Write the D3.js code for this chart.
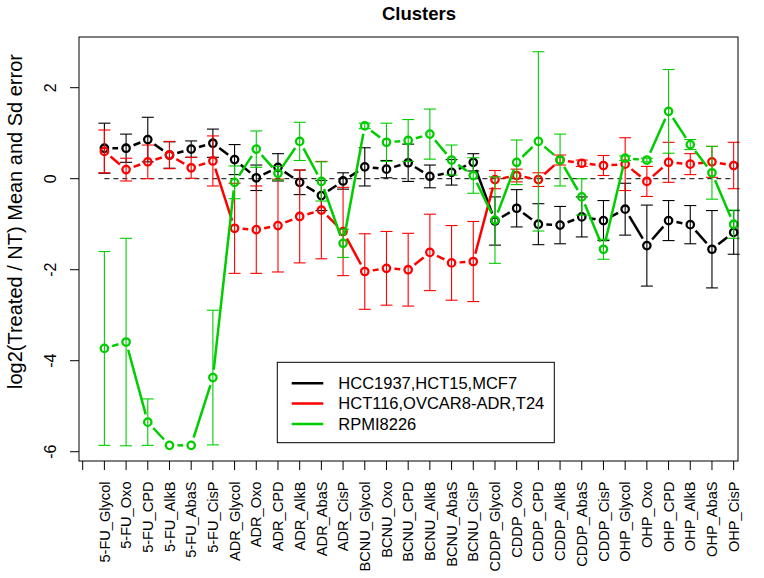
<!DOCTYPE html>
<html><head><meta charset="utf-8">
<script src="https://cdn.jsdelivr.net/npm/d3@7"></script>
<style>body{margin:0;background:#fff}svg{display:block;font-family:"Liberation Sans",Arial,Helvetica,sans-serif}</style>
</head><body>
<svg id="chart" width="764" height="578"></svg>
<script>
const categories = ["5-FU_Glycol","5-FU_Oxo","5-FU_CPD","5-FU_AlkB","5-FU_AbaS","5-FU_CisP",
 "ADR_Glycol","ADR_Oxo","ADR_CPD","ADR_AlkB","ADR_AbaS","ADR_CisP",
 "BCNU_Glycol","BCNU_Oxo","BCNU_CPD","BCNU_AlkB","BCNU_AbaS","BCNU_CisP",
 "CDDP_Glycol","CDDP_Oxo","CDDP_CPD","CDDP_AlkB","CDDP_AbaS","CDDP_CisP",
 "OHP_Glycol","OHP_Oxo","OHP_CPD","OHP_AlkB","OHP_AbaS","OHP_CisP"];
const xTicks = d3.range(0, 31);
const yTicks = [-6, -4, -2, 0, 2];
const seriesNames = ["HCC1937,HCT15,MCF7", "HCT116,OVCAR8-ADR,T24", "RPMI8226"];
const seriesColors = ["#000000", "#FF0000", "#00CD00"];

const hccMean = [0.67,0.67,0.86,0.52,0.65,0.78, 0.42,0.02,0.25,-0.08,-0.37,-0.05, 0.26,0.21,0.35,0.05,0.14,0.36, -0.93,-0.65,-1.00,-1.02,-0.84,-0.92, -0.67,-1.47,-0.92,-1.01,-1.55,-1.18];
const hccSd   = [0.55,0.31,0.49,0.29,0.18,0.31, 0.33,0.28,0.30,0.27,0.33,0.18, 0.42,0.19,0.41,0.25,0.28,0.19, 0.53,0.41,0.45,0.41,0.44,0.44, 0.57,0.89,0.44,0.42,0.85,0.48];
const hctMean = [0.60,0.20,0.37,0.52,0.24,0.39, -1.09,-1.12,-1.03,-0.83,-0.69,-1.16, -2.04,-1.97,-2.00,-1.62,-1.85,-1.82, -0.02,0.07,-0.02,0.41,0.34,0.29, 0.32,-0.06,0.36,0.32,0.37,0.29];
const hctSd   = [0.47,0.25,0.37,0.30,0.23,0.55, 0.99,0.96,1.02,1.02,1.07,0.97, 0.83,0.81,0.80,0.84,0.82,0.88, 0.20,0.14,0.15,0.11,0.07,0.22, 0.58,0.33,0.44,0.23,0.34,0.51];
const rpmiMean = [-3.73,-3.59,-5.35,-5.86,-5.86,-4.37, -0.08,0.65,0.12,0.82,-0.06,-1.42, 1.16,0.80,0.84,0.98,0.41,0.07, -0.91,0.36,0.82,0.41,-0.40,-1.55, 0.45,0.41,1.48,0.75,0.13,-1.00];
const rpmiSd   = [2.13,2.28,0.51,0,0,1.48, 0.36,0.40,0.15,0.42,0.43,0.31, 0.06,0.42,0.46,0.55,0.33,0.39, 0.95,0.49,1.97,0.57,0.40,0.22, 0.05,0.04,0.92,0.11,0.58,0.31];

const series = [
  {name: seriesNames[0], color: seriesColors[0], mean: hccMean, sd: hccSd},
  {name: seriesNames[1], color: seriesColors[1], mean: hctMean, sd: hctSd},
  {name: seriesNames[2], color: seriesColors[2], mean: rpmiMean, sd: rpmiSd}
];

const svg = d3.select("#chart");
const box = {l: 79, r: 738, t: 37, b: 461};
const x = d3.scaleLinear().domain([-0.17, 30.2]).range([box.l, box.r]);
const y = d3.scaleLinear().domain([-6.204, 3.114]).range([box.b, box.t]);

// title
svg.append("text").attr("x", 419).attr("y", 19.5).attr("text-anchor", "middle")
  .attr("font-weight", "bold").attr("font-size", 18.5).text("Clusters");

// y axis ticks & labels
const yAx = svg.append("g");
yTicks.forEach(v => {
  yAx.append("line").attr("x1", box.l - 9).attr("x2", box.l).attr("y1", y(v)).attr("y2", y(v))
    .attr("stroke", "#000").attr("stroke-width", 1);
  yAx.append("text").attr("transform", `translate(50,${y(v)}) rotate(-90)`)
    .attr("text-anchor", "middle").attr("dy", "0.35em").attr("font-size", 16).text(v);
});
svg.append("text").attr("transform", `translate(15,221.5) rotate(-90)`)
  .attr("text-anchor", "middle").attr("dy", "0.35em").attr("font-size", 20)
  .text("log2(Treated / NT) Mean and Sd error");

// x axis ticks & labels
const xAx = svg.append("g");
xTicks.forEach(v => {
  xAx.append("line").attr("x1", x(v)).attr("x2", x(v)).attr("y1", box.b).attr("y2", box.b + 9)
    .attr("stroke", "#000").attr("stroke-width", 1);
});
categories.forEach((c, i) => {
  xAx.append("text").attr("transform", `translate(${x(i + 1)},481.5) rotate(-90)`)
    .attr("text-anchor", "end").attr("dy", "0.35em").attr("font-size", 14.6).text(c);
});

// zero reference line
svg.append("line").attr("x1", x(1)).attr("x2", x(30)).attr("y1", y(0)).attr("y2", y(0))
  .attr("stroke", "#000").attr("stroke-width", 1).attr("stroke-dasharray", "5,4");

// series
const gap = 8;
series.forEach(s => {
  const g = svg.append("g");
  const pts = s.mean.map((m, i) => ({px: x(i + 1), py: y(m), m, sd: s.sd[i]}));
  // error bars
  pts.forEach(p => {
    if (p.sd <= 0) return;
    const yt = y(p.m + p.sd), yb = y(p.m - p.sd);
    g.append("line").attr("x1", p.px).attr("x2", p.px).attr("y1", yt).attr("y2", yb)
      .attr("stroke", s.color).attr("stroke-width", 1.1);
    [yt, yb].forEach(yy => g.append("line").attr("x1", p.px - 6).attr("x2", p.px + 6)
      .attr("y1", yy).attr("y2", yy).attr("stroke", s.color).attr("stroke-width", 1.1));
  });
  // lines with gaps (type "b")
  for (let i = 0; i < pts.length - 1; i++) {
    const a = pts[i], b = pts[i + 1];
    const dx = b.px - a.px, dy = b.py - a.py, L = Math.hypot(dx, dy);
    if (L <= 2 * gap) continue;
    const ux = dx / L, uy = dy / L;
    g.append("line").attr("x1", a.px + ux * gap).attr("y1", a.py + uy * gap)
      .attr("x2", b.px - ux * gap).attr("y2", b.py - uy * gap)
      .attr("stroke", s.color).attr("stroke-width", 2.5);
  }
  // points
  g.selectAll("circle").data(pts).join("circle")
    .attr("cx", d => d.px).attr("cy", d => d.py).attr("r", 3.7)
    .attr("fill", "none").attr("stroke", s.color).attr("stroke-width", 2.3);
});

// plot box
svg.append("rect").attr("x", box.l).attr("y", box.t).attr("width", box.r - box.l).attr("height", box.b - box.t)
  .attr("fill", "none").attr("stroke", "#000").attr("stroke-width", 1);

// legend
const lg = svg.append("g");
lg.append("rect").attr("x", 277.3).attr("y", 362.3).attr("width", 277).attr("height", 80.4)
  .attr("fill", "#fff").attr("stroke", "#000").attr("stroke-width", 1);
const rowY = [383.3, 403.6, 424];
series.forEach((s, i) => {
  lg.append("line").attr("x1", 291.7).attr("x2", 323.3).attr("y1", rowY[i]).attr("y2", rowY[i])
    .attr("stroke", s.color).attr("stroke-width", 2.5);
  lg.append("text").attr("x", 338.3).attr("y", rowY[i]).attr("dy", "0.35em")
    .attr("font-size", 16.5).text(s.name);
});
</script>
</body></html>
